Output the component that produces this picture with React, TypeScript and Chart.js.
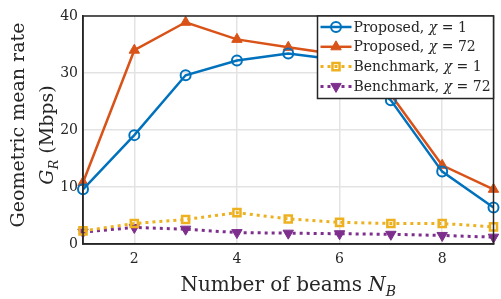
import React, { useEffect, useRef } from "react";
import { Chart, registerables } from "chart.js";

Chart.register(...registerables);

const beams = [1, 2, 3, 4, 5, 6, 7, 8, 9];
const proposedChi1 = [9.6, 19.1, 29.6, 32.2, 33.4, 32.3, 25.2, 12.7, 6.4];
const proposedChi72 = [10.8, 34.0, 38.9, 35.9, 34.5, 33.2, 26.2, 13.8, 9.6];
const benchmarkChi1 = [2.3, 3.6, 4.3, 5.5, 4.4, 3.8, 3.6, 3.6, 3.0];
const benchmarkChi72 = [2.1, 2.9, 2.6, 2.0, 1.9, 1.8, 1.7, 1.5, 1.2];
const xTicks = [2, 4, 6, 8];
const yTicks = [0, 10, 20, 30, 40];
const legendChi = ["1", "72", "1", "72"];
const legendNames = ["Proposed", "Proposed", "Benchmark", "Benchmark"];

const FONT = "'DejaVu Serif', serif";
const INK = "#262626";

type Seg = { t: string; it?: boolean; sub?: boolean };

function segFont(s: Seg, size: number) {
  const sz = s.sub ? Math.round(size * 0.7) : size;
  return `${s.it ? "italic " : ""}${sz}px ${FONT}`;
}
function measureSegs(ctx: CanvasRenderingContext2D, segs: Seg[], size: number) {
  let w = 0;
  for (const s of segs) {
    ctx.font = segFont(s, size);
    w += ctx.measureText(s.t).width;
  }
  return w;
}
function drawSegs(ctx: CanvasRenderingContext2D, segs: Seg[], size: number, x: number, y: number) {
  let cx = x;
  for (const s of segs) {
    ctx.font = segFont(s, size);
    ctx.fillText(s.t, cx, s.sub ? y + size * 0.25 : y);
    cx += ctx.measureText(s.t).width;
  }
}

function drawMarker(ctx: CanvasRenderingContext2D, d: any, x: number, y: number) {
  const r = d.pointRadius;
  ctx.save();
  ctx.fillStyle = d.pointBackgroundColor;
  ctx.strokeStyle = d.pointBorderColor;
  ctx.lineWidth = d.pointBorderWidth;
  ctx.setLineDash([]);
  ctx.beginPath();
  if (d.pointStyle === "circle") {
    ctx.arc(x, y, r, 0, Math.PI * 2);
  } else if (d.pointStyle === "rect") {
    const s = r / Math.SQRT2;
    ctx.rect(x - s, y - s, 2 * s, 2 * s);
  } else {
    const down = (d.pointRotation || 0) === 180 ? -1 : 1;
    const side = (r * 3) / Math.sqrt(3);
    ctx.moveTo(x, y - down * r);
    ctx.lineTo(x - side / 2, y + down * r * 0.5);
    ctx.lineTo(x + side / 2, y + down * r * 0.5);
    ctx.closePath();
  }
  ctx.fill();
  ctx.stroke();
  ctx.restore();
}

const colors = ["#0072BD", "#D95319", "#EDB120", "#7E2F8E"];

const decorPlugin = {
  id: "decor",
  afterDraw(chart: any) {
    const ctx: CanvasRenderingContext2D = chart.ctx;
    const a = chart.chartArea;
    ctx.save();
    // frame
    ctx.strokeStyle = INK;
    ctx.lineWidth = 1.5;
    ctx.strokeRect(a.left, a.top, a.right - a.left, a.bottom - a.top);

    // x title
    ctx.fillStyle = INK;
    ctx.textBaseline = "alphabetic";
    const xt: Seg[] = [{ t: "Number of beams " }, { t: "N", it: true }, { t: "B", it: true, sub: true }];
    const xs = 20;
    const xw = measureSegs(ctx, xt, xs);
    drawSegs(ctx, xt, xs, (a.left + a.right) / 2 - xw / 2, 291);

    // y title
    ctx.save();
    ctx.translate(0, (a.top + a.bottom) / 2);
    ctx.rotate(-Math.PI / 2);
    const ys = 19;
    const y1: Seg[] = [{ t: "Geometric mean rate" }];
    const y2: Seg[] = [{ t: "G", it: true }, { t: "R", it: true, sub: true }, { t: " (Mbps)" }];
    const w1 = measureSegs(ctx, y1, ys);
    drawSegs(ctx, y1, ys, -w1 / 2 + 5, 24);
    const w2 = measureSegs(ctx, y2, ys);
    drawSegs(ctx, y2, ys, -w2 / 2 - 5, 53);
    ctx.restore();

    // legend
    const bw = 176, bh = 82.5;
    const bx = a.right - bw, by = a.top;
    ctx.fillStyle = "#ffffff";
    ctx.fillRect(bx, by, bw, bh);
    ctx.strokeStyle = INK;
    ctx.lineWidth = 1.5;
    ctx.strokeRect(bx, by, bw, bh);
    const ds = chart.data.datasets;
    for (let i = 0; i < ds.length; i++) {
      const d = ds[i];
      const cy = by + 11 + i * 19.8;
      ctx.strokeStyle = d.borderColor;
      ctx.lineWidth = d.borderWidth;
      ctx.setLineDash(d.borderDash || []);
      ctx.beginPath();
      ctx.moveTo(bx + 3, cy);
      ctx.lineTo(bx + 34, cy);
      ctx.stroke();
      ctx.setLineDash([]);
      drawMarker(ctx, d, bx + 18.5, cy);
      ctx.fillStyle = INK;
      ctx.textBaseline = "middle";
      const segs: Seg[] = [{ t: legendNames[i] + ", " }, { t: "χ", it: true }, { t: " = " + legendChi[i] }];
      drawSegs(ctx, segs, 14, bx + 36, cy + 1);
    }
    ctx.restore();
  },
};

export default function App() {
  const ref = useRef<HTMLCanvasElement>(null);
  useEffect(() => {
    document.body.style.margin = "0";
    const toXY = (arr: number[]) => beams.map((b, i) => ({ x: b, y: arr[i] }));
    const chart = new Chart(ref.current as HTMLCanvasElement, {
      type: "line",
      data: {
        datasets: [
          {
            data: toXY(proposedChi1),
            borderColor: colors[0],
            borderWidth: 2.5,
            pointStyle: "circle",
            pointRadius: 5,
            pointBorderWidth: 2,
            pointBackgroundColor: "rgba(0,0,0,0)",
            pointBorderColor: colors[0],
            clip: false,
          } as any,
          {
            data: toXY(proposedChi72),
            borderColor: colors[1],
            borderWidth: 2.5,
            pointStyle: "triangle",
            pointRadius: 6,
            pointBorderWidth: 1,
            pointBackgroundColor: colors[1],
            pointBorderColor: colors[1],
            clip: false,
          },
          {
            data: toXY(benchmarkChi1),
            borderColor: colors[2],
            borderWidth: 3,
            borderDash: [3, 4],
            pointStyle: "rect",
            pointRadius: 5,
            pointBorderWidth: 2.5,
            pointBackgroundColor: "rgba(0,0,0,0)",
            pointBorderColor: colors[2],
            clip: false,
          },
          {
            data: toXY(benchmarkChi72),
            borderColor: colors[3],
            borderWidth: 3,
            borderDash: [3, 4],
            pointStyle: "triangle",
            pointRotation: 180,
            pointRadius: 6,
            pointBorderWidth: 1,
            pointBackgroundColor: colors[3],
            pointBorderColor: colors[3],
            clip: false,
          },
        ],
      },
      options: {
        responsive: false,
        animation: false,
        layout: { padding: { top: 16, right: 2, left: 0, bottom: 0 } },
        plugins: { legend: { display: false }, tooltip: { enabled: false } },
        scales: {
          x: {
            type: "linear",
            min: 1,
            max: 9,
            afterBuildTicks: (s: any) => {
              s.ticks = xTicks.map((v) => ({ value: v }));
            },
            afterFit: (s: any) => {
              s.height = 55;
            },
            ticks: { font: { family: FONT, size: 14 }, color: INK, padding: 7, maxRotation: 0 },
            grid: { color: "#e3e3e3", lineWidth: 1.5, drawTicks: false },
            border: { display: true, color: INK, width: 1.5 },
          },
          y: {
            min: 0,
            max: 40,
            afterBuildTicks: (s: any) => {
              s.ticks = yTicks.map((v) => ({ value: v }));
            },
            afterFit: (s: any) => {
              s.width = 83;
            },
            ticks: { font: { family: FONT, size: 14 }, color: INK, padding: 5 },
            grid: { color: "#e3e3e3", lineWidth: 1.5, drawTicks: false },
            border: { display: true, color: INK, width: 1.5 },
          },
        },
      },
      plugins: [decorPlugin],
    });
    return () => chart.destroy();
  }, []);
  return <canvas ref={ref} width={501} height={299} />;
}
